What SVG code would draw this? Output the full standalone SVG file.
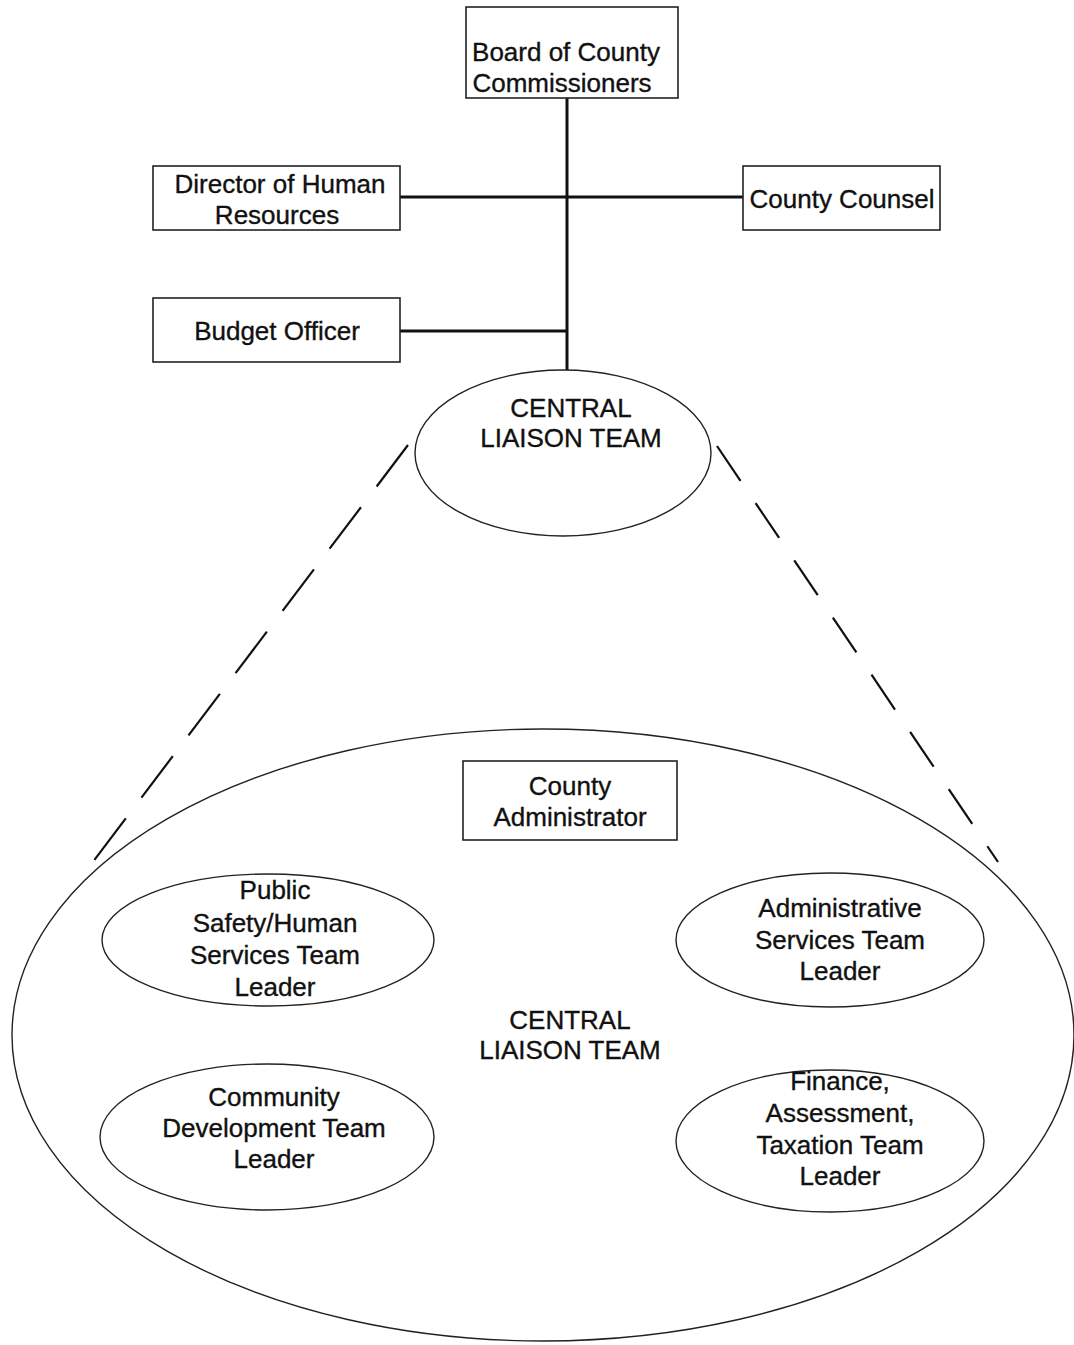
<svg xmlns="http://www.w3.org/2000/svg" width="1074" height="1345" viewBox="0 0 1074 1345">
<style>
text{font-family:"Liberation Sans",Arial,sans-serif;font-size:26px;fill:#111;stroke:#111;stroke-width:0.35;text-anchor:middle}
.box{fill:#fff;stroke:#222;stroke-width:1.6}
.ell{fill:none;stroke:#222;stroke-width:1.4}
.conn{stroke:#111;stroke-width:3;fill:none}
.dash{stroke:#111;stroke-width:2.2;fill:none;stroke-dasharray:52 26}
.dash2{stroke:#111;stroke-width:2.2;fill:none;stroke-dasharray:42 27}
</style>
<rect width="1074" height="1345" fill="#fff"/>
<g id="connectors">
<line class="conn" x1="567" y1="98" x2="567" y2="370"/>
<line class="conn" x1="400" y1="197" x2="743" y2="197"/>
<line class="conn" x1="400" y1="331" x2="567" y2="331"/>
<line class="dash" x1="408" y1="445" x2="89" y2="867"/>
<line class="dash2" x1="717" y1="446" x2="998" y2="862"/>
</g>
<g id="board">
<rect class="box" x="466" y="7" width="212" height="91"/>
<text x="566" y="61">Board of County</text>
<text x="562" y="92">Commissioners</text>
</g>
<g id="hr">
<rect class="box" x="153" y="166" width="247" height="64"/>
<text x="280" y="193">Director of Human</text>
<text x="277" y="224">Resources</text>
</g>
<g id="counsel">
<rect class="box" x="743" y="166" width="197" height="64"/>
<text x="842" y="208">County Counsel</text>
</g>
<g id="budget">
<rect class="box" x="153" y="298" width="247" height="64"/>
<text x="277" y="340">Budget Officer</text>
</g>
<g id="clt-small">
<ellipse class="ell" cx="563" cy="453" rx="148" ry="83"/>
<text x="571" y="417">CENTRAL</text>
<text x="571" y="447">LIAISON TEAM</text>
</g>
<g id="clt-big">
<ellipse class="ell" cx="543" cy="1035" rx="531" ry="306"/>
<text x="570" y="1029">CENTRAL</text>
<text x="570" y="1059">LIAISON TEAM</text>
</g>
<g id="admin">
<rect class="box" x="463" y="761" width="214" height="79"/>
<text x="570" y="795">County</text>
<text x="570" y="826">Administrator</text>
</g>
<g id="public-safety">
<ellipse class="ell" cx="268" cy="940" rx="166" ry="66"/>
<text x="275" y="899">Public</text>
<text x="275" y="932">Safety/Human</text>
<text x="275" y="964">Services Team</text>
<text x="275" y="996">Leader</text>
</g>
<g id="admin-services">
<ellipse class="ell" cx="830" cy="940" rx="154" ry="67"/>
<text x="840" y="917">Administrative</text>
<text x="840" y="949">Services Team</text>
<text x="840" y="980">Leader</text>
</g>
<g id="community-dev">
<ellipse class="ell" cx="267" cy="1137" rx="167" ry="73"/>
<text x="274" y="1106">Community</text>
<text x="274" y="1137">Development Team</text>
<text x="274" y="1168">Leader</text>
</g>
<g id="finance">
<ellipse class="ell" cx="830" cy="1141" rx="154" ry="71"/>
<text x="840" y="1090">Finance,</text>
<text x="840" y="1122">Assessment,</text>
<text x="840" y="1154">Taxation Team</text>
<text x="840" y="1185">Leader</text>
</g>
</svg>
